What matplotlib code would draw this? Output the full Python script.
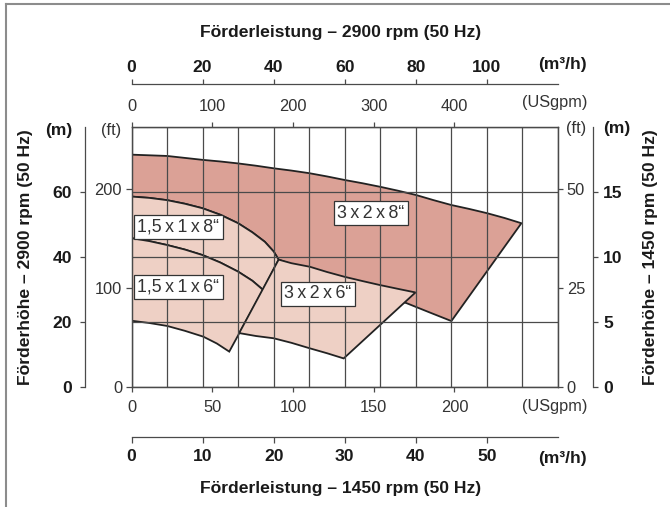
import matplotlib
matplotlib.use("Agg")
import matplotlib.pyplot as plt
from matplotlib.patches import Polygon
from matplotlib.lines import Line2D
import numpy as np

# ---------------- data (x: m3/h @2900 rpm, y: head m @2900 rpm) ----------------
GPM_PER_M3H = 4.4029
M_PER_FT = 0.3048

top_3x2x8_q = [0, 5, 10, 15, 20, 25, 30, 35, 40, 45, 50, 55, 60, 65, 70, 75, 80, 85, 90, 95, 100, 105, 109.7]
top_3x2x8_h = [71.4, 71.2, 71.0, 70.4, 69.8, 69.3, 68.7, 68.0, 67.2, 66.5, 65.7, 64.7, 63.6, 62.6,
               61.5, 60.3, 59.0, 57.4, 55.9, 54.7, 53.4, 51.9, 50.3]
bot_3x2x8_q = [90.0, 84.0, 77.4, 60.0, 41.4]
bot_3x2x8_h = [20.2, 22.8, 25.7, 31.8, 39.1]

top_158_q = [0, 5, 10, 15, 20, 25, 30, 34, 37.5, 40, 41.4]
top_158_h = [58.5, 58.1, 57.4, 56.3, 54.9, 52.9, 50.3, 47.5, 44.6, 41.6, 39.1]

top_156_q = [0, 5, 10, 15, 20, 25, 30, 34, 37.0]
top_156_h = [45.7, 44.8, 43.6, 42.2, 40.5, 38.2, 35.4, 32.6, 29.8]
bot_156_q = [0, 5, 10, 15, 20.2, 24, 27.5]
bot_156_h = [20.3, 19.6, 18.7, 17.2, 15.4, 13.3, 10.8]

top_326_q = [41.4, 45, 50.2, 55, 60.0, 65, 69.8, 75, 79.9]
top_326_h = [39.1, 38.0, 36.9, 35.3, 33.8, 32.5, 31.3, 30.1, 29.0]
bot_326_q = [30.3, 35, 40.0, 45, 50.2, 55, 59.7]
bot_326_h = [16.5, 15.6, 14.9, 13.5, 11.8, 10.3, 8.7]

labels = ["1,5\u2009x\u20091\u2009x\u20098\u201c", "1,5\u2009x\u20091\u2009x\u20096\u201c",
          "3\u2009x\u20092\u2009x\u20098\u201c", "3\u2009x\u20092\u2009x\u20096\u201c"]
label_q = [13.1, 13.1, 67.3, 52.5]
label_h = [49.2, 30.7, 53.4, 28.6]

q2900_ticks = [0, 20, 40, 60, 80, 100]
q1450_ticks = [0, 10, 20, 30, 40, 50]
gpm2900_ticks = [0, 100, 200, 300, 400]
gpm1450_ticks = [0, 50, 100, 150, 200]
h2900_ticks = [0, 20, 40, 60]
h1450_ticks = [0, 5, 10, 15]
ft2900_ticks = [0, 100, 200]
ft1450_ticks = [0, 25, 50]

# ---------------- style ----------------
DARK = "#DBA196"
LIGHT = "#EED0C5"
EDGE = "#222222"
GRID = "#4a4a4a"
TXT = "#1a1a1a"
LTXT = "#333333"
BOLD = dict(family=["Liberation Sans", "DejaVu Sans"], weight="bold", size=12.6, color=TXT)
LIGHTF = dict(family=["Liberation Sans", "DejaVu Sans"], weight="normal", size=11.8, color=LTXT)

W, H = 670, 507
PT = 0.72  # points per pixel at 100 dpi
fig = plt.figure(figsize=(W / 100, H / 100), dpi=100)
L, R, T, B = 131.5, 558.0, 126.7, 386.7
ax = fig.add_axes([L / W, 1 - B / H, (R - L) / W, (B - T) / H])
ax.set_xlim(0, 120)
ax.set_ylim(0, 80)
ax.set_xticks(np.arange(0, 121, 10))
ax.set_yticks([0, 20, 40, 60, 80])
ax.tick_params(length=0, labelbottom=False, labelleft=False)
ax.set_axisbelow("line")
ax.grid(True, color=GRID, lw=0.9)
for s in ax.spines.values():
    s.set_color(GRID)
    s.set_linewidth(0.9)


def poly(q, h, fc):
    p = Polygon(np.column_stack([q, h]), closed=True, facecolor=fc,
                edgecolor=EDGE, lw=1.3, zorder=1, joinstyle="miter")
    ax.add_patch(p)


poly(top_3x2x8_q + bot_3x2x8_q + top_158_q[::-1][1:],
     top_3x2x8_h + bot_3x2x8_h + top_158_h[::-1][1:], DARK)
poly(top_158_q + top_156_q[::-1], top_158_h + top_156_h[::-1], LIGHT)
poly(top_156_q + bot_156_q[::-1], top_156_h + bot_156_h[::-1], LIGHT)
poly(top_326_q + bot_326_q[::-1], top_326_h + bot_326_h[::-1], LIGHT)

for s, q, h in zip(labels, label_q, label_h):
    ax.text(q, h, s, ha="center", va="center", zorder=5,
            family=["Liberation Sans", "DejaVu Sans"], size=12.8, color="#333333",
            bbox=dict(boxstyle="square,pad=0.2", fc="white", ec="#333333", lw=0.9))


def style_axis(sa, which, bold, length_px, pad_px):
    sa.tick_params(length=length_px * PT, width=0.9, color=GRID, pad=pad_px * PT, direction="out")
    for sp in sa.spines.values():
        sp.set_color(GRID)
        sp.set_linewidth(0.9)
    props = BOLD if bold else LIGHTF
    labs = sa.get_xticklabels() if which == "x" else sa.get_yticklabels()
    for t in labs:
        t.set_fontfamily(props["family"])
        t.set_fontweight(props["weight"])
        t.set_fontsize(props["size"])
        t.set_color(props["color"])


# top USgpm (2900) on the frame
s1 = ax.secondary_xaxis("top", functions=(lambda q: q * GPM_PER_M3H, lambda g: g / GPM_PER_M3H))
s1.set_xticks(gpm2900_ticks)
style_axis(s1, "x", False, 5, 7.5)
# top m3/h (2900) separate line
s2 = ax.secondary_xaxis(1 + (T - 84) / (B - T), functions=(lambda q: q, lambda q: q))
s2.set_xticks(q2900_ticks)
style_axis(s2, "x", True, 5.5, 3.8)
# bottom USgpm (1450)
s3 = ax.secondary_xaxis("bottom", functions=(lambda q: q / 2 * GPM_PER_M3H, lambda g: g / GPM_PER_M3H * 2))
s3.set_xticks(gpm1450_ticks)
style_axis(s3, "x", False, 5, 8.5)
# bottom m3/h (1450)
s4 = ax.secondary_xaxis(-(437 - B) / (B - T), functions=(lambda q: q / 2, lambda q: q * 2))
s4.set_xticks(q1450_ticks)
style_axis(s4, "x", True, 6, 6)
# left ft
s5 = ax.secondary_yaxis("left", functions=(lambda m: m / M_PER_FT, lambda f: f * M_PER_FT))
s5.set_yticks(ft2900_ticks)
style_axis(s5, "y", False, 6, 3.5)
# left m
s6 = ax.secondary_yaxis(-(L - 85) / (R - L), functions=(lambda m: m, lambda m: m))
s6.set_yticks(h2900_ticks)
style_axis(s6, "y", True, 5, 8)
# right ft (1450)
s7 = ax.secondary_yaxis("right", functions=(lambda m: m / 4 / M_PER_FT, lambda f: f * 4 * M_PER_FT))
s7.set_yticks(ft1450_ticks)
style_axis(s7, "y", False, 5, 3.7)
# right m (1450)
s8 = ax.secondary_yaxis(1 + (593 - R) / (R - L), functions=(lambda m: m / 4, lambda h: h * 4))
s8.set_yticks(h1450_ticks)
style_axis(s8, "y", True, 5, 5)


def ftext(x, y, s, props, **kw):
    fig.text(x / W, 1 - y / H, s, **props, **kw)


ftext(341, 33, "Förderleistung – 2900 rpm (50 Hz)", BOLD, ha="center", va="center")
ftext(341, 488, "Förderleistung – 1450 rpm (50 Hz)", BOLD, ha="center", va="center")
ftext(587, 64, "(m\u00b3/h)", BOLD, ha="right", va="center")
ftext(587, 103, "(USgpm)", LIGHTF, ha="right", va="center")
ftext(587, 407, "(USgpm)", LIGHTF, ha="right", va="center")
ftext(587, 458, "(m\u00b3/h)", BOLD, ha="right", va="center")
ftext(72, 130, "(m)", BOLD, ha="right", va="center")
ftext(121, 130, "(ft)", LIGHTF, ha="right", va="center")
ftext(566, 128, "(ft)", LIGHTF, ha="left", va="center")
ftext(603, 128, "(m)", BOLD, ha="left", va="center")
ftext(26, 256.7, "Förderhöhe – 2900 rpm (50 Hz)", BOLD, ha="center", va="center", rotation=90)
ftext(651, 256.7, "Förderhöhe – 1450 rpm (50 Hz)", BOLD, ha="center", va="center", rotation=90)

# partial outer frame
fig.add_artist(Line2D([6 / W, 6 / W], [0, 1 - 4 / H], transform=fig.transFigure, color="#8c8c8c", lw=1.5))
fig.add_artist(Line2D([6 / W, 1], [1 - 4 / H, 1 - 4 / H], transform=fig.transFigure, color="#8c8c8c", lw=1.5))

fig.savefig("out.png", dpi=100)
